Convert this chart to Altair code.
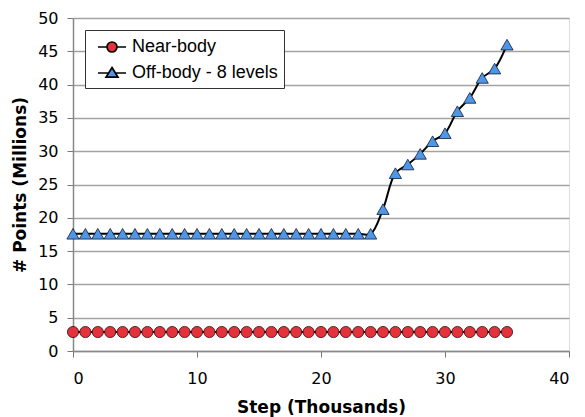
import altair as alt
import pandas as pd

steps = [0, 1, 2, 3, 4, 5, 6, 7, 8, 9, 10, 11, 12, 13, 14, 15, 16, 17,
         18, 19, 20, 21, 22, 23, 24, 25, 26, 27, 28, 29, 30, 31, 32, 33, 34, 35]
near_body = [2.85, 2.85, 2.85, 2.85, 2.85, 2.85, 2.85, 2.85, 2.85, 2.85, 2.85, 2.85,
             2.85, 2.85, 2.85, 2.85, 2.85, 2.85, 2.85, 2.85, 2.85, 2.85, 2.85, 2.85,
             2.85, 2.85, 2.85, 2.85, 2.85, 2.85, 2.85, 2.85, 2.85, 2.85, 2.85, 2.85]
off_body = [17.6, 17.6, 17.6, 17.6, 17.6, 17.6, 17.6, 17.6, 17.6, 17.6, 17.6, 17.6,
            17.6, 17.6, 17.6, 17.6, 17.6, 17.6, 17.6, 17.6, 17.6, 17.6, 17.6, 17.6,
            17.6, 21.3, 26.7, 28.0, 29.6, 31.5, 32.7, 36.0, 38.0, 41.0, 42.4, 46.0]
series_names = ["Near-body", "Off-body - 8 levels"]
fill_colors = ["#e3323b", "#4f97e6"]
x_ticks = [0, 10, 20, 30, 40]
y_ticks = [0, 5, 10, 15, 20, 25, 30, 35, 40, 45, 50]

# legend symbols: a line segment with the marker in the middle
legend_paths = [
    "M-1.4,0H-0.5M0.5,0H1.4M0.5,0A0.5,0.5 0 1,1 -0.5,0A0.5,0.5 0 1,1 0.5,0Z",
    "M-1.4,0H-0.3M0.3,0H1.4M0,-0.55L0.6,0.42L-0.6,0.42Z",
]

df = pd.DataFrame({
    "step": steps + steps,
    "value": near_body + off_body,
    "series": [series_names[0]] * len(steps) + [series_names[1]] * len(steps),
})

FONT = "DejaVu Sans"

x = alt.X("step:Q", scale=alt.Scale(domain=[0, 40], nice=False),
          axis=alt.Axis(values=x_ticks, title="Step (Thousands)", grid=False,
                        labelFont=FONT, labelFontSize=16, labelColor="black",
                        titleFont=FONT, titleFontSize=17, titleFontWeight="bold",
                        titleColor="black", titlePadding=13,
                        tickSize=6, tickColor="#777", domainColor="#888",
                        domainWidth=1.5, labelPadding=13))
y = alt.Y("value:Q", scale=alt.Scale(domain=[0, 50], nice=False),
          axis=alt.Axis(values=y_ticks, title="# Points (Millions)", grid=True,
                        gridColor="#a3a3a3", gridWidth=1.5,
                        labelFont=FONT, labelFontSize=16, labelColor="black",
                        titleFont=FONT, titleFontSize=17, titleFontWeight="bold",
                        titleColor="black", titlePadding=8,
                        tickSize=6, tickColor="#777", domainColor="#888",
                        domainWidth=1.5, labelPadding=9))

base = alt.Chart(df)

lines = base.mark_line(color="black", strokeWidth=2, interpolate="catmull-rom").encode(
    x=x, y=y, detail="series:N")

circles = base.transform_filter(alt.datum.series == series_names[0]).mark_point(
    shape="circle", filled=True, fill=fill_colors[0], stroke="#2a1010",
    strokeWidth=0.8, size=125, opacity=1).encode(x=x, y=y)

triangles = base.transform_filter(alt.datum.series == series_names[1]).mark_point(
    shape="triangle-up", filled=True, fill=fill_colors[1], stroke="#101a30",
    strokeWidth=0.8, size=150, opacity=1).encode(x=x, y=y)

leg = alt.Legend(orient="none", legendX=12, legendY=12, title=None,
                 fillColor="white", strokeColor="#333", padding=6,
                 symbolSize=400, symbolOpacity=1,
                 symbolStrokeWidth=1.7, symbolOffset=10, labelOffset=9,
                 labelFont="Liberation Sans", labelFontSize=18, labelColor="black",
                 rowPadding=6, labelLimit=400)

legend_layer = base.mark_point(filled=True, opacity=0).encode(
    x=x, y=y,
    fill=alt.Fill("series:N", scale=alt.Scale(domain=series_names, range=fill_colors), legend=leg),
    stroke=alt.Stroke("series:N", scale=alt.Scale(domain=series_names, range=["black", "black"]), legend=leg),
    shape=alt.Shape("series:N", scale=alt.Scale(domain=series_names, range=legend_paths), legend=leg),
)

chart = alt.layer(lines, circles, triangles, legend_layer).properties(
    width=496, height=333,
    autosize=alt.AutoSizeParams(type="none"),
    padding={"left": 73, "top": 18, "right": 16, "bottom": 66},
).configure_view(stroke="#444", strokeWidth=1.5).configure(background="white")

chart.save("out.html", embed_options={"renderer": "svg", "actions": False})
